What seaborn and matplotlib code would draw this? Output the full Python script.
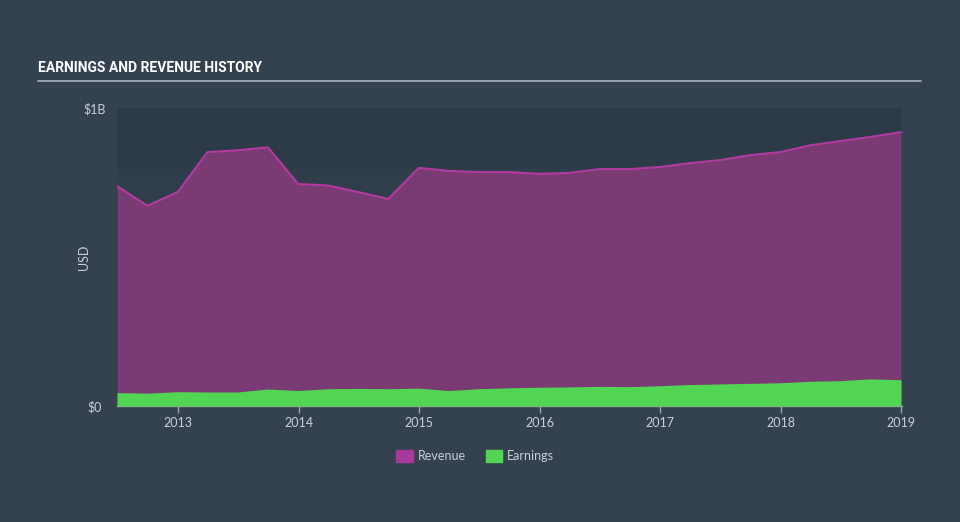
import matplotlib
matplotlib.use("Agg")
import matplotlib.pyplot as plt
import matplotlib.patches as mpatches
import seaborn as sns
import pandas as pd

# quarterly data, values in $B
dates = pd.date_range("2012-06-30", "2018-12-31", freq="QE")
revenue = [0.738, 0.672, 0.718, 0.852, 0.858, 0.868, 0.745, 0.740, 0.718, 0.695,
           0.799, 0.789, 0.785, 0.785, 0.779, 0.782, 0.795, 0.795, 0.802, 0.815,
           0.825, 0.842, 0.852, 0.875, 0.889, 0.903, 0.919]
earnings = [0.045, 0.043, 0.048, 0.047, 0.047, 0.057, 0.052, 0.058, 0.059, 0.058,
            0.060, 0.052, 0.058, 0.061, 0.063, 0.064, 0.066, 0.065, 0.068, 0.072,
            0.074, 0.076, 0.078, 0.083, 0.085, 0.091, 0.088]
year_ticks = ["2013", "2014", "2015", "2016", "2017", "2018", "2019"]

df = pd.DataFrame({"date": dates, "Revenue": revenue, "Earnings": earnings})

BG = "#344250"
PLOT_BG = "#303e4c"
BAND = "#2d3a47"
REV_FILL = "#7a3a73"
REV_LINE = "#b23aa0"
EARN = "#52d552"
TXT = "#c9ced6"

sns.set_theme(style="dark")
plt.rcParams["font.family"] = ["Lato", "DejaVu Sans"]

fig = plt.figure(figsize=(9.6, 5.22), dpi=100, facecolor=BG)
ax = fig.add_axes([117 / 960, 116 / 522, 785 / 960, 298 / 522])
ax.set_facecolor(PLOT_BG)

x0, x1 = pd.Timestamp("2012-06-30"), pd.Timestamp("2019-01-03")
ax.axhspan(0.8, 1.0, color=BAND, zorder=0)

ax.fill_between(df["date"], 0, df["Revenue"], color=REV_FILL, lw=0, zorder=1)
sns.lineplot(data=df, x="date", y="Revenue", ax=ax, color=REV_LINE, lw=1.5, zorder=2)
ax.fill_between(df["date"], 0, df["Earnings"], color=EARN, lw=0, zorder=3)

ax.set_xlim(x0, x1)
ax.set_ylim(0, 1.0)
ax.set_yticks([0, 1.0])
ax.set_yticklabels(["$0", "$1B"])
ax.yaxis.set_tick_params(length=0, pad=16, labelsize=9, labelcolor=TXT)
for lbl in ax.get_yticklabels():
    lbl.set_horizontalalignment("center")
ax.set_xticks([pd.Timestamp(f"{y}-01-01") for y in year_ticks])
ax.set_xticklabels(year_ticks)
ax.tick_params(axis="x", colors="#9aa3ad", length=5, width=1, direction="out",
               labelsize=9, labelcolor=TXT, pad=3, bottom=True)
ax.set_xlabel("")
ax.set_ylabel("USD", color=TXT, fontsize=9)
ax.yaxis.set_label_coords(-0.034, 0.5)
ax.grid(False)
for side in ["top", "right", "left"]:
    ax.spines[side].set_visible(False)
ax.spines["bottom"].set_color("#9aa3ad")
ax.spines["bottom"].set_linewidth(1)

# title and rule
fig.text(38 / 960, 1 - 68 / 522, "EARNINGS AND REVENUE HISTORY", color="white",
         fontsize=10, fontweight="bold", family=["Roboto", "DejaVu Sans"],
         va="center", ha="left")
fig.add_artist(plt.Line2D([38 / 960, 921 / 960], [1 - 81 / 522] * 2,
                          color="#aab1ba", lw=1.2))

handles = [mpatches.Patch(color="#a8399c", label="Revenue"),
           mpatches.Patch(color=EARN, label="Earnings")]
leg = fig.legend(handles=handles, loc="center", bbox_to_anchor=(0.495, 1 - 456 / 522),
                 ncol=2, frameon=False, fontsize=9, handlelength=1.3, handleheight=1.1,
                 columnspacing=1.6, handletextpad=0.4)
for t in leg.get_texts():
    t.set_color(TXT)

fig.savefig("out.png", dpi=100, facecolor=BG)
